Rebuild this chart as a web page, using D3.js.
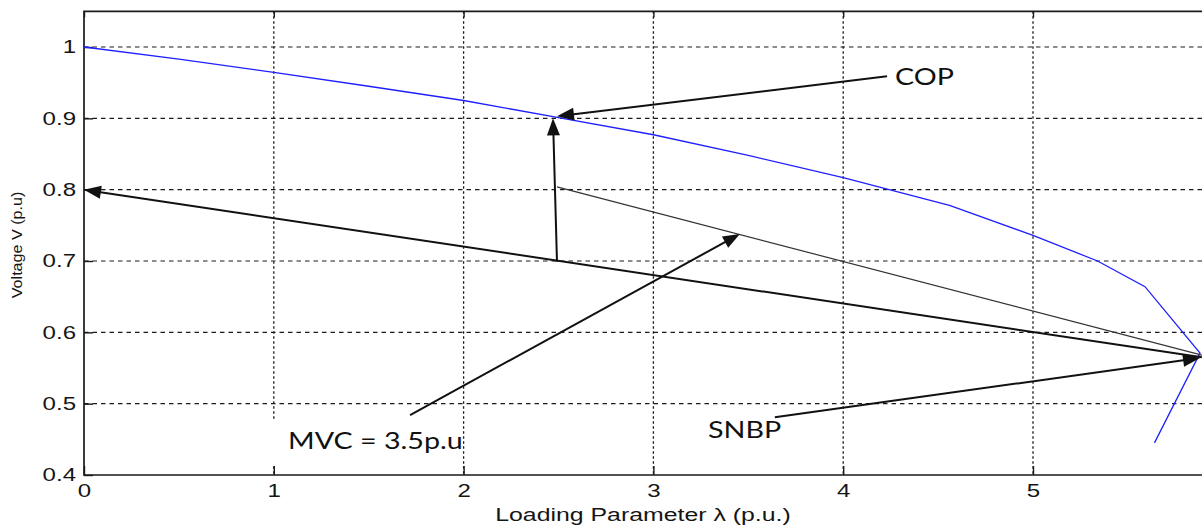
<!DOCTYPE html>
<html>
<head>
<meta charset="utf-8">
<script src="https://cdn.jsdelivr.net/npm/d3@7"></script>
<style>
  body { margin: 0; background: #fff; }
  svg { display: block; }
</style>
</head>
<body>
<svg id="chart" width="1202" height="526"></svg>
<script>
////////////////////////////////////////////////////////////////////////////////
// Data
var pvLambda  = [0, 0.5, 1, 1.5, 2, 2.5, 3, 3.5, 4, 4.56, 5, 5.34, 5.59, 5.88, 5.64];
var pvVoltage = [1.0, 0.983, 0.9645, 0.945, 0.925, 0.901, 0.877, 0.848, 0.817, 0.778, 0.736, 0.70, 0.664, 0.571, 0.445];

var xTicks = [0, 1, 2, 3, 4, 5];
var xTickLabels = ["0", "1", "2", "3", "4", "5"];
var yTicks = [0.4, 0.5, 0.6, 0.7, 0.8, 0.9, 1];
var yTickLabels = ["0.4", "0.5", "0.6", "0.7", "0.8", "0.9", "1"];

// annotation arrows, in (lambda, V)
var arrowNames = ["COP", "up", "long", "SNBP", "MVC"];
var arrowFrom  = [[4.231, 0.959], [2.492, 0.699], [5.89, 0.565], [3.64, 0.481], [1.718, 0.484]];
var arrowTo    = [[2.492, 0.903], [2.471, 0.900], [0.0, 0.800], [5.88, 0.564], [3.456, 0.738]];
// thin line without head
var thinFrom = [2.492, 0.804];
var thinTo   = [5.89, 0.568];

var labelText = ["COP", "MVC = 3.5p.u", "SNBP"];
var labelAt   = [[4.273, 0.947], [1.075, 0.436], [3.288, 0.452]];

////////////////////////////////////////////////////////////////////////////////
// Layout
var svg = d3.select("#chart");
var mLeft = 84, mBottom = 475, mTop = 11.35;
var x = d3.scaleLinear().domain([0, 5.9]).range([mLeft, mLeft + 5.9 * 189.8]);
var y = d3.scaleLinear().domain([0.4, 1.05]).range([mBottom, mTop]);
var mRight = x(5.9);
var ink = "#1a1a1a";

// stretch text horizontally like the source picture
function stretch(sel, k) {
  sel.each(function () {
    var w = this.getComputedTextLength();
    d3.select(this).attr("textLength", w * k).attr("lengthAdjust", "spacingAndGlyphs");
  });
}

// grid
svg.append("g").selectAll("line")
    .data(yTicks.slice(1))
    .enter().append("line")
    .attr("x1", mLeft).attr("x2", mRight)
    .attr("y1", function(d) { return y(d); })
    .attr("y2", function(d) { return y(d); })
    .attr("stroke", ink).attr("stroke-width", 1.2)
    .attr("stroke-dasharray", "4.5,4");
svg.append("g").selectAll("line")
    .data(xTicks.slice(1))
    .enter().append("line")
    .attr("x1", function(d) { return x(d); })
    .attr("x2", function(d) { return x(d); })
    .attr("y1", mTop).attr("y2", mBottom)
    .attr("stroke", ink).attr("stroke-width", 1.3)
    .attr("stroke-dasharray", "2.5,2.5");

// axes
var gx = svg.append("g")
    .attr("transform", "translate(0," + mBottom + ")")
    .call(d3.axisBottom(x).tickValues(xTicks)
          .tickFormat(function(d, i) { return xTickLabels[i]; })
          .tickSize(-9).tickPadding(9));
var gy = svg.append("g")
    .attr("transform", "translate(" + mLeft + ",0)")
    .call(d3.axisLeft(y).tickValues(yTicks)
          .tickFormat(function(d, i) { return yTickLabels[i]; })
          .tickSize(-9).tickPadding(8));
var gt = svg.append("g")
    .attr("transform", "translate(0," + mTop + ")")
    .call(d3.axisTop(x).tickValues(xTicks).tickSize(-6).tickFormat(""));
[gx, gy, gt].forEach(function(g) {
  g.select(".domain").remove();
  g.selectAll(".tick line").attr("stroke", ink).attr("stroke-width", 1.4);
  g.selectAll("text")
      .attr("font-family", "'Liberation Sans', Arial, sans-serif")
      .attr("font-size", 18.5)
      .attr("fill", "#151515");
});
stretch(gx.selectAll("text"), 1.3);
stretch(gy.selectAll("text"), 1.3);

// frame
svg.append("path")
    .attr("d", "M" + mRight + "," + mTop + "H" + mLeft + "V" + mBottom + "H" + mRight)
    .attr("fill", "none").attr("stroke", ink).attr("stroke-width", 1.7);

// axis titles
svg.append("text")
    .attr("x", 643).attr("y", 521)
    .attr("text-anchor", "middle")
    .attr("font-family", "'Liberation Sans', Arial, sans-serif")
    .attr("font-size", 17.5).attr("fill", "#151515")
    .text("Loading Parameter \u03bb (p.u.)")
    .call(stretch, 1.42);
svg.append("text")
    .attr("transform", "translate(22,245) rotate(-90)")
    .attr("text-anchor", "middle")
    .attr("font-family", "'Liberation Sans', Arial, sans-serif")
    .attr("font-size", 14).attr("fill", "#151515")
    .text("Voltage V (p.u)")
    .call(stretch, 1.15);

// PV curve
var pts = pvLambda.map(function(d, i) { return [d, pvVoltage[i]]; });
svg.append("path")
    .datum(pts)
    .attr("d", d3.line().x(function(d) { return x(d[0]); }).y(function(d) { return y(d[1]); }))
    .attr("fill", "none").attr("stroke", "#1f1fff").attr("stroke-width", 1.3);

// thin connecting line
svg.append("line")
    .attr("x1", x(thinFrom[0])).attr("y1", y(thinFrom[1]))
    .attr("x2", x(thinTo[0])).attr("y2", y(thinTo[1]))
    .attr("stroke", "#333").attr("stroke-width", 1.2);

// labels (MVC has a white box behind it)
var gl = svg.append("g");
labelText.forEach(function(t, i) {
  var txt = gl.append("text")
      .attr("x", x(labelAt[i][0])).attr("y", y(labelAt[i][1]))
      .attr("font-family", "Lato, 'Open Sans', sans-serif")
      .attr("font-size", 23.5).attr("fill", "#111")
      .text(t);
  stretch(txt, 1.22);
  if (i == 1) {
    var b = txt.node().getBBox();
    gl.insert("rect", "text")
        .attr("x", b.x - 18).attr("y", b.y - 6)
        .attr("width", b.width + 16).attr("height", b.height + 16)
        .attr("fill", "#fff");
  }
});

// arrows
function arrow(p0, p1) {
  var x0 = x(p0[0]), y0 = y(p0[1]), x1 = x(p1[0]), y1 = y(p1[1]);
  var dx = x1 - x0, dy = y1 - y0, len = Math.sqrt(dx*dx + dy*dy);
  var ux = dx / len, uy = dy / len;
  var hl = 17, hw = 6.5;
  var bx = x1 - ux * hl, by = y1 - uy * hl;
  svg.append("line")
      .attr("x1", x0).attr("y1", y0).attr("x2", bx + ux * 2).attr("y2", by + uy * 2)
      .attr("stroke", "#111").attr("stroke-width", 2);
  svg.append("path")
      .attr("d", "M" + x1 + "," + y1 +
                 "L" + (bx - uy * hw) + "," + (by + ux * hw) +
                 "L" + (bx + uy * hw) + "," + (by - ux * hw) + "Z")
      .attr("fill", "#111");
}
for (var i = 0; i < arrowNames.length; i++) {
  arrow(arrowFrom[i], arrowTo[i]);
}
</script>
</body>
</html>
